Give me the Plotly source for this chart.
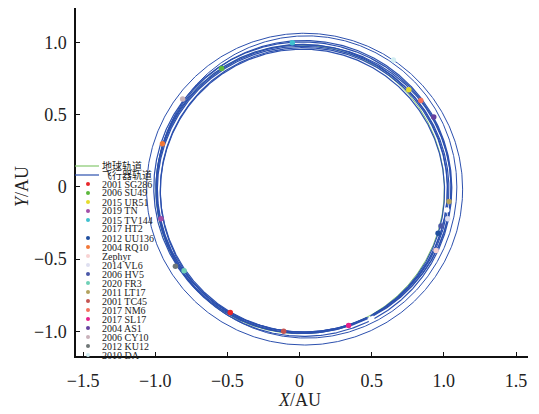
import numpy as np
import plotly.graph_objects as go

# ---------------- data ----------------
# Earth orbit elements
earth_a = 1.0
earth_e = 0.0167
earth_peri_deg = 102.9

# Spacecraft trajectory: one ellipse per revolution (centre x, centre y, radius x, radius y)
loop_cx = [0.020, 0.030, 0.025, 0.030, 0.020, 0.030, 0.015, 0.050, 0.035]
loop_cy = [-0.030, -0.020, -0.015, -0.010, -0.005, -0.010, -0.012, 0.000, -0.015]
loop_rx = [0.985, 0.995, 1.010, 1.020, 1.030, 1.025, 1.010, 1.040, 1.095]
loop_ry = [0.985, 0.985, 0.990, 0.995, 1.010, 1.025, 1.000, 1.047, 1.080]
loop_w = [1.2, 1.2, 1.2, 1.2, 1.2, 1.2, 1.2, 1.0, 1.0]
loop_gap = [True, True, True, True, True, True, True, False, False]
gap_start_deg = -64.0
gap_end_deg = -61.5

# Asteroid encounter points
ast_names = ["2001 SG286", "2006 SU49", "2015 UR51", "2019 TN", "2015 TV144",
             "2017 HT2", "2012 UU136", "2004 RQ10", "Zephyr", "2014 VL6",
             "2006 HV5", "2020 FR3", "2011 LT17", "2001 TC45", "2017 NM6",
             "2017 SL17", "2004 AS1", "2006 CY10", "2012 KU12", "2010 DA"]
ast_x = [-0.48, -0.54, 0.757, -0.96, -0.05,
         1.02, 0.96, -0.95, 0.946, 1.027,
         0.98, -0.80, 1.036, -0.11, 0.84,
         0.34, 0.93, -0.81, -0.86, 0.65]
ast_y = [-0.87, 0.82, 0.674, -0.22, 1.00,
         -0.16, -0.32, 0.30, -0.44, -0.22,
         -0.27, -0.58, -0.10, -1.00, 0.60,
         -0.96, 0.485, 0.61, -0.55, 0.88]
ast_colors = ["#e8262a", "#5cb83c", "#e6dc2c", "#a24fa8", "#3fc0cf",
              "#ffffff", "#1f4f9f", "#f27838", "#f8d2d2", "#dedff0",
              "#4a58a8", "#6fd0b6", "#b3a25e", "#c45452", "#f2705e",
              "#e6208a", "#6441a0", "#c9b2ba", "#6f7777", "#d2eef2"]

orbit_names = ["地球轨道", "飞行器轨道"]
orbit_colors = ["#86c86f", "#2c50ae"]

x_ticks = [-1.5, -1.0, -0.5, 0, 0.5, 1.0, 1.5]
x_ticktext = ["−1.5", "−1.0", "−0.5", "0", "0.5", "1.0", "1.5"]
y_ticks = [-1.0, -0.5, 0, 0.5, 1.0]
y_ticktext = ["−1.0", "−0.5", "0", "0.5", "1.0"]

# ---------------- figure ----------------
FONT = "Liberation Serif, Times New Roman, Noto Sans CJK SC, serif"
fig = go.Figure()

# Earth orbit
nu = np.linspace(0, 2 * np.pi, 721)
p = earth_a * (1 - earth_e ** 2)
r = p / (1 + earth_e * np.cos(nu))
w = np.deg2rad(earth_peri_deg)
fig.add_trace(go.Scatter(x=r * np.cos(nu + w), y=r * np.sin(nu + w), mode="lines",
                         line=dict(color=orbit_colors[0], width=1.0),
                         showlegend=False, hoverinfo="skip"))

# Spacecraft trajectory (one trace per revolution, same style)
for cx, cy, rx, ry, lw, g in zip(loop_cx, loop_cy, loop_rx, loop_ry, loop_w, loop_gap):
    if g:
        th = np.deg2rad(np.linspace(gap_end_deg, gap_start_deg + 360, 720))
    else:
        th = np.linspace(0, 2 * np.pi, 721)
    fig.add_trace(go.Scatter(x=cx + rx * np.cos(th), y=cy + ry * np.sin(th), mode="lines",
                             line=dict(color=orbit_colors[1], width=lw),
                             showlegend=False, hoverinfo="skip"))

# Asteroid points
for nm, x, y, c in zip(ast_names, ast_x, ast_y, ast_colors):
    fig.add_trace(go.Scatter(x=[x], y=[y], mode="markers", name=nm,
                             marker=dict(color=c, size=5.5, line=dict(width=0)),
                             showlegend=False))

# ---------------- custom compact legend ----------------
L, R, T, B = 76, 11, 8, 58
W, H = 539, 414
pw, ph = W - L - R, H - T - B

def px2paper_x(px):
    return (px - L) / pw

def py2paper_y(py):
    return (H - B - py) / ph

shapes = []
annotations = []
row0 = 166
row_step = 9
labels = orbit_names + ast_names
for i, lab in enumerate(labels):
    yc = row0 + i * row_step
    yp = py2paper_y(yc)
    if i < 2:
        shapes.append(dict(type="line", xref="paper", yref="paper",
                           x0=px2paper_x(75), x1=px2paper_x(99), y0=yp, y1=yp,
                           line=dict(color=orbit_colors[i], width=1.2)))
    else:
        c = ast_colors[i - 2]
        rr = 2.0
        shapes.append(dict(type="circle", xref="paper", yref="paper",
                           x0=px2paper_x(88 - rr), x1=px2paper_x(88 + rr),
                           y0=py2paper_y(yc + rr), y1=py2paper_y(yc - rr),
                           fillcolor=c, line=dict(width=0)))
    annotations.append(dict(text=lab, xref="paper", yref="paper",
                            x=px2paper_x(100), y=yp, xanchor="left", yanchor="middle",
                            showarrow=False, font=dict(family=FONT, size=10, color="#222222")))

# Axis titles
annotations.append(dict(text="<i>X</i>/AU", xref="paper", yref="paper",
                        x=px2paper_x(299.5), y=py2paper_y(400), xanchor="center", yanchor="middle",
                        showarrow=False, font=dict(family=FONT, size=18, color="#222222")))
annotations.append(dict(text="<i>Y</i>/AU", xref="paper", yref="paper",
                        x=px2paper_x(22), y=py2paper_y(187), xanchor="center", yanchor="middle",
                        textangle=-90, showarrow=False,
                        font=dict(family=FONT, size=18, color="#222222")))

axis_common = dict(showgrid=False, zeroline=False, showline=True, linecolor="#111111",
                   linewidth=1.5, ticks="inside", ticklen=4, tickwidth=1, tickcolor="#111111",
                   tickfont=dict(family=FONT, size=18, color="#222222"))

fig.update_layout(
    width=W, height=H,
    margin=dict(l=L, r=R, t=T, b=B),
    paper_bgcolor="white", plot_bgcolor="white",
    showlegend=False,
    xaxis=dict(range=[-1.549, 1.583], tickvals=x_ticks, ticktext=x_ticktext,
               ticklabelstandoff=8, **axis_common),
    yaxis=dict(range=[-1.171, 1.240], tickvals=y_ticks, ticktext=y_ticktext,
               ticklabelstandoff=4, **axis_common),
    shapes=shapes,
    annotations=annotations,
)

fig.write_html("out.html")
